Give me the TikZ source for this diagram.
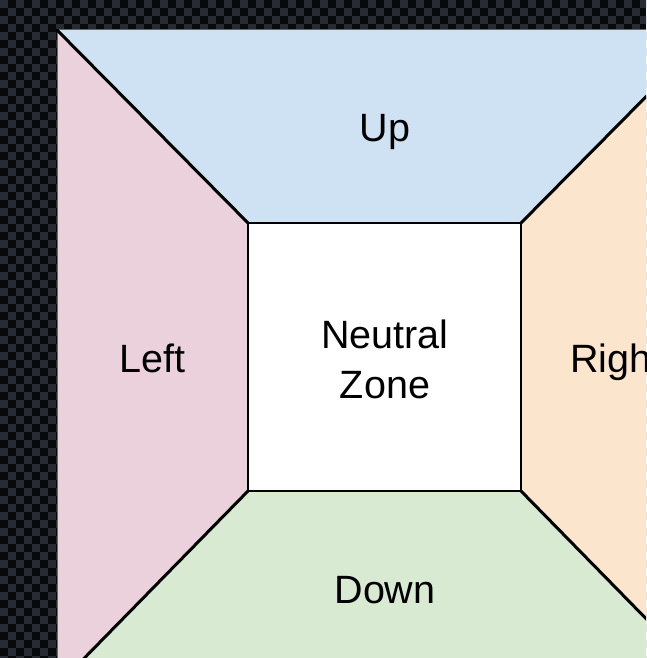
\documentclass[tikz,border=0pt]{standalone}
\usepackage{fontspec}
\setmainfont{Liberation Sans}
\definecolor{chkA}{HTML}{08090B}
\definecolor{chkB}{HTML}{262B34}
\definecolor{upblue}{HTML}{CFE2F3}
\definecolor{leftpink}{HTML}{EAD1DC}
\definecolor{rightorange}{HTML}{FCE5CD}
\definecolor{downgreen}{HTML}{D9EAD3}
\tikzset{
  zonelabel/.style={font=\fontsize{39.5}{50}\selectfont, align=center, inner sep=0pt, text=black},
  diagline/.style={draw=black, line width=3pt, line cap=round},
  innerline/.style={draw=black, line width=2pt},
  outerline/.style={draw=black!60, line width=1pt}
}
\begin{document}
\begin{tikzpicture}[x=1pt,y=-1pt]
\useasboundingbox (0,0) rectangle (646,658);
\clip (0,0) rectangle (646,658);
% checkerboard background
\fill[chkA] (0,0) rectangle (646,658);
\foreach \j in {0,...,82}{
  \pgfmathtruncatemacro\s{mod(\j,2)*8}
  \foreach \x in {0,16,...,640}{
    \fill[chkB] ({\x+\s},{\j*8}) rectangle ++(8,8);
  }
}
% corners
\coordinate (OTL) at (57,30);
\coordinate (OTR) at (712,30);
\coordinate (OBR) at (712,686);
\coordinate (OBL) at (57,686);
\coordinate (ITL) at (248,223);
\coordinate (ITR) at (521,223);
\coordinate (IBR) at (521,491);
\coordinate (IBL) at (248,491);
% regions
\fill[upblue] (OTL) -- (OTR) -- (ITR) -- (ITL) -- cycle;
\fill[leftpink] (OTL) -- (ITL) -- (IBL) -- (OBL) -- cycle;
\fill[rightorange] (OTR) -- (OBR) -- (IBR) -- (ITR) -- cycle;
\fill[downgreen] (IBL) -- (IBR) -- (OBR) -- (OBL) -- cycle;
\fill[white] (ITL) rectangle (IBR);
% outlines
\draw[outerline] (OBL) -- (OTL) -- (OTR);
\draw[diagline] (OTL) -- (ITL);
\draw[diagline] (OTR) -- (ITR);
\draw[diagline] (OBL) -- (IBL);
\draw[diagline] (OBR) -- (IBR);
\draw[innerline] (ITL) rectangle (IBR);
% labels
\node[zonelabel, anchor=base] (up) at (385,142) {Up};
\node[zonelabel, anchor=base] (left) at (152.5,372) {Left};
\node[zonelabel, anchor=base] (right) at (616.5,372) {Right};
\node[zonelabel, anchor=base] (down) at (385,603) {Down};
\node[zonelabel, anchor=base] (neutral) at (385,348) {Neutral};
\node[zonelabel, anchor=base] (zone) at (385,398) {Zone};
\end{tikzpicture}
\end{document}
